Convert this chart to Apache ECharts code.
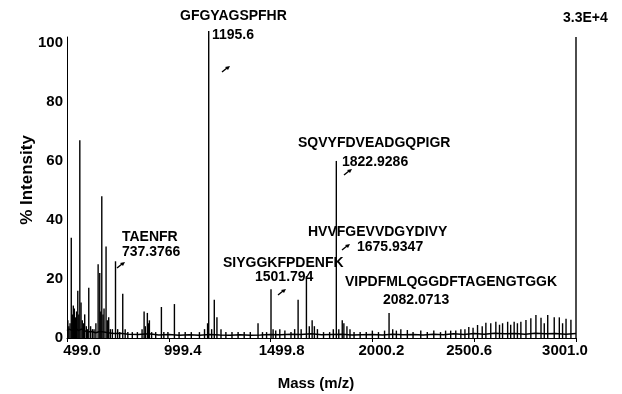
<!DOCTYPE html>
<html>
<head>
<meta charset="utf-8">
<script src="https://cdn.jsdelivr.net/npm/echarts@6/dist/echarts.min.js"></script>
<style>
  html, body { margin: 0; padding: 0; background: #fff; }
  #chart { width: 622px; height: 394px; }
</style>
</head>
<body>
<div id="chart"></div>
<script>
// tick labels
var xTicks = [499.0, 999.4, 1499.8, 2000.2, 2500.6, 3001.0]
var yTicks = [0, 20, 40, 60, 80, 100]

// peak positions (m/z) and heights (% intensity)
var peakMass = [
  503, 508, 514, 520, 525, 530, 535, 540, 546, 552, 557, 562, 568, 574, 580, 586,
  594, 600, 606, 615, 624, 632, 641, 652, 660, 665, 670, 676, 681, 691, 697, 704,
  712, 722, 737.4, 748, 758, 773, 785, 798,
  820, 845, 868, 878, 884, 894, 899, 904, 915, 935, 963, 975, 995, 1027, 1050,
  1080, 1110, 1150, 1175, 1190, 1195.6, 1210, 1223, 1236, 1256, 1280, 1310, 1340,
  1370, 1400, 1438, 1460, 1480,
  1501.8, 1512, 1525, 1545, 1570, 1600, 1618, 1635, 1650, 1675.9, 1690, 1704,
  1715, 1730, 1760, 1790, 1808, 1822.9, 1835, 1852, 1860, 1875, 1890, 1910, 1940,
  1970, 2000, 2030, 2060, 2082.1, 2100, 2118, 2140, 2172, 2200, 2238, 2270, 2302,
  2335, 2360, 2385, 2410, 2435, 2455, 2474, 2495, 2517, 2540, 2558, 2582, 2607,
  2625, 2640, 2665, 2680, 2697, 2713, 2730, 2755, 2779, 2804, 2829, 2845, 2862,
  2894, 2919, 2935, 2952, 2976, 3001
]
var peakHeight = [
  6, 4, 5, 34, 8, 11, 10, 7, 9, 16, 8, 67, 12, 6, 5, 8,
  4, 3, 17, 4, 3, 3, 5, 25, 22, 9, 48, 8, 10, 31, 6, 7,
  3, 3, 26, 3, 2, 15, 3, 2,
  2, 2, 3, 9, 4, 8.5, 5, 6, 2, 2, 10.5, 2, 2, 11.5, 2,
  2, 2, 2, 3, 5, 104, 3, 13, 7, 3, 2, 2, 2,
  2, 2, 5, 2, 2,
  16.5, 3, 2.5, 3, 2.5, 2, 3, 13, 3, 21, 4, 6,
  4, 3, 2, 2, 3, 60, 3, 6, 5, 4, 3, 2, 2,
  2, 2.5, 2, 2.5, 8.5, 3, 2.5, 3, 2.7, 2, 2.5, 2, 2.5,
  2, 2.5, 2.5, 2.5, 3, 3, 3.7, 3.5, 4.4, 4, 5.2, 5, 5.5,
  4.5, 5, 5.5, 4.5, 5.5, 5, 5.5, 6.1, 6.7, 7.8, 6.9, 5, 7.8,
  7, 7, 5, 6.5, 6.2, 102
]

// noisy baseline
var baseMass = [
  499, 510, 525, 540, 555, 570, 585, 600, 620, 640, 660, 680, 700, 730, 760, 800,
  850, 900, 950, 1000, 1050, 1100, 1150, 1200, 1250, 1300, 1350, 1400, 1450, 1500,
  1550, 1600, 1650, 1700, 1750, 1800, 1850, 1900, 1950, 2000, 2050, 2100, 2150,
  2200, 2250, 2300, 2350, 2400, 2450, 2500, 2550, 2600, 2650, 2700, 2750, 2800,
  2850, 2900, 2950, 3001
]
var baseHeight = [
  2.5, 3, 2.5, 3.5, 2.5, 3, 2.5, 2, 2.2, 1.8, 2.2, 2, 1.8, 1.5, 1.6, 1.3,
  1.2, 1.4, 1, 1.2, 0.9, 1.1, 0.9, 1.2, 1, 0.9, 1.1, 0.9, 1, 1.2,
  1.1, 1.3, 1.2, 1.4, 1.1, 1.2, 1.3, 1, 1.1, 1.2, 1, 1.3, 1.1,
  1.2, 1, 1.3, 1.1, 1.4, 1.2, 1.5, 1.3, 1.6, 1.4, 1.5, 1.3, 1.6,
  1.4, 1.5, 1.3, 1.5
]

// peak annotations
var labelNames = ['GFGYAGSPFHR', '1195.6', '3.3E+4', 'SQVYFDVEADGQPIGR', '1822.9286',
  'HVVFGEVVDGYDIVY', '1675.9347', 'SIYGGKFPDENFK', '1501.794',
  'VIPDFMLQGGDFTAGENGTGGK', '2082.0713', 'TAENFR', '737.3766']

var font = '"Liberation Sans", Arial, sans-serif'
var labelPos = [
  [180, 16], [212, 35], [563, 18], [298, 143], [342, 162],
  [308, 232], [357, 247], [223, 263], [255, 277],
  [345, 282], [383, 300], [122, 237], [122, 252]
]
var arrowPos = [[226, 69], [348, 172], [346, 247], [282, 292], [121, 265]]
// the scanned tick labels sit a little off their ticks
var xLabelShift = [15, 14, 11, 9, -5, -11]

var graphics = []
labelNames.forEach(function (t, i) {
  graphics.push({
    type: 'text',
    x: labelPos[i][0],
    y: labelPos[i][1],
    style: {
      text: t,
      fill: '#000',
      font: 'bold 14px ' + font,
      textAlign: 'left',
      textVerticalAlign: 'middle'
    }
  })
})
arrowPos.forEach(function (p) {
  // short arrow pointing up-right
  graphics.push({
    type: 'line',
    shape: { x1: p[0] - 4, y1: p[1] + 3, x2: p[0] + 1, y2: p[1] - 1 },
    style: { stroke: '#000', lineWidth: 1.5 }
  })
  graphics.push({
    type: 'polygon',
    shape: {
      points: [[p[0] + 4, p[1] - 3], [p[0] - 1, p[1] - 2], [p[0] + 2, p[1] + 1]]
    },
    style: { fill: '#000' }
  })
})
graphics.push({
  type: 'text',
  x: 27,
  y: 180,
  rotation: Math.PI / 2,
  style: {
    text: '% Intensity',
    fill: '#000',
    font: 'bold 17px ' + font,
    textAlign: 'center',
    textVerticalAlign: 'middle'
  }
})
graphics.push({
  type: 'text',
  x: 316,
  y: 384,
  style: {
    text: 'Mass (m/z)',
    fill: '#000',
    font: 'bold 15px ' + font,
    textAlign: 'center',
    textVerticalAlign: 'middle'
  }
})

var rich = {}
xLabelShift.forEach(function (d, i) {
  rich['s' + i] = {
    fontFamily: font,
    fontWeight: 'bold',
    fontSize: 15,
    color: '#000',
    padding: d > 0 ? [0, 0, 0, 2 * d] : [0, -2 * d, 0, 0]
  }
})

var chart = echarts.init(document.getElementById('chart'))
chart.setOption({
  animation: false,
  grid: { left: 67, right: 46, top: 37, bottom: 56 },
  xAxis: {
    type: 'value',
    min: 499,
    max: 3001,
    splitLine: { show: false },
    axisLine: { lineStyle: { color: '#000', width: 1 } },
    axisTick: { show: true, length: 4, customValues: xTicks, lineStyle: { color: '#000' } },
    axisLabel: {
      customValues: xTicks,
      margin: 5,
      color: '#000',
      fontFamily: font,
      fontWeight: 'bold',
      fontSize: 15,
      rich: rich,
      formatter: function (v) {
        var i = xTicks.indexOf(v)
        if (i < 0) {
          i = 0
        }
        return '{s' + i + '|' + v.toFixed(1) + '}'
      }
    }
  },
  yAxis: {
    type: 'value',
    min: 0,
    max: 102,
    splitLine: { show: false },
    axisLine: { show: true, lineStyle: { color: '#000', width: 1 } },
    axisTick: { show: false },
    axisLabel: {
      customValues: yTicks,
      margin: 4,
      color: '#000',
      fontFamily: font,
      fontWeight: 'bold',
      fontSize: 15
    }
  },
  series: [
    {
      type: 'line',
      data: baseMass.map(function (m, i) { return [m, baseHeight[i]] }),
      showSymbol: false,
      lineStyle: { color: '#000', width: 1.5 },
      silent: true
    },
    {
      type: 'bar',
      data: peakMass.map(function (m, i) { return [m, peakHeight[i]] }),
      barWidth: 1.4,
      clip: false,
      itemStyle: { color: '#000' }
    }
  ],
  graphic: graphics
})
</script>
</body>
</html>
